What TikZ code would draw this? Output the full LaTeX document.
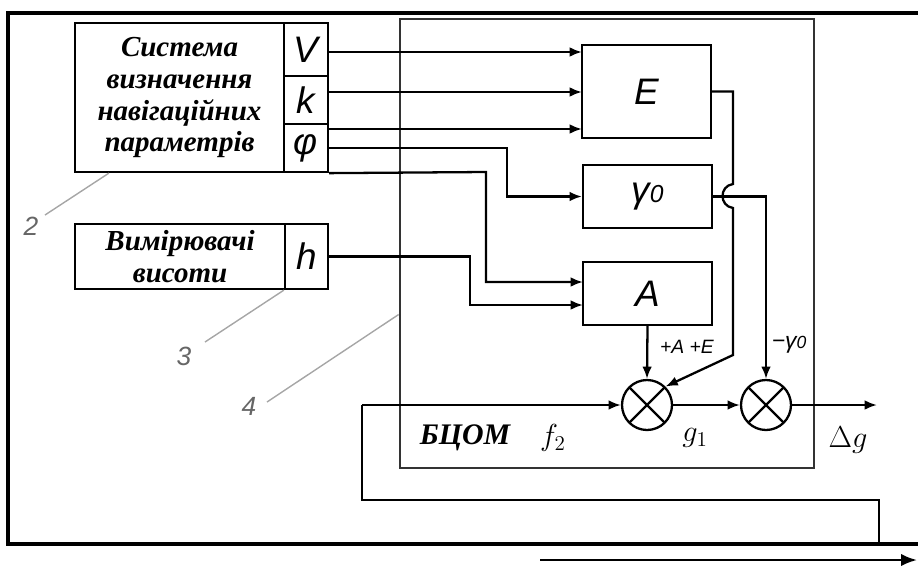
\documentclass[tikz,border=0pt]{standalone}
\usepackage{fontspec}
\setmainfont{Liberation Serif}
\setsansfont{Liberation Sans}
\usetikzlibrary{positioning, calc, arrows.meta}

\tikzset{
    blk/.style={draw, line width=1.3pt, inner sep=0pt},
    wire/.style={line width=1.3pt},
    feed/.style={wire, -{Latex[length=7pt,width=5.5pt]}},
    sum/.style={circle, draw, line width=1.3pt, minimum size=1cm, inner sep=0pt,
        path picture={\draw[line width=1.3pt]
            (path picture bounding box.north west) -- (path picture bounding box.south east)
            (path picture bounding box.north east) -- (path picture bounding box.south west);}},
    lead/.style={gray!70, line width=0.8pt},
    numlbl/.style={gray!80!black, font=\sffamily\itshape\fontsize{15}{15}\selectfont},
    sig/.style={font=\sffamily\itshape\fontsize{21}{21}\selectfont},
    title/.style={font=\bfseries\itshape\fontsize{16.5}{18.2}\selectfont, align=center}
}

\begin{document}
\begin{tikzpicture}[x=0.02cm, y=-0.02cm]

    \useasboundingbox (0,0) rectangle (918,565);

    % ;- outer frame ;-
    \draw[line width=2.2pt] (918,13) -- (8,13) -- (8,544) -- (918,544);
    \coordinate (arrL) at (540,560);
    \coordinate (arrR) at (917,560);
    \draw[line width=1.4pt, -{Latex[length=9pt,width=7pt]}] (arrL) -- (arrR);

    % ;- navigation system (2) ;-
    \node[blk, minimum width=4.18cm, minimum height=2.98cm, title] (sys) at (179.5,97.5)
        {Система\\визначення\\навігаційних\\параметрів};
    \node[blk, minimum width=0.88cm, minimum height=1.06cm, sig] (V) at (306,49.5) {V};
    \node[blk, minimum width=0.88cm, minimum height=0.96cm, sig] (k) at (306,100) {k};
    \node[blk, minimum width=0.88cm, minimum height=0.96cm, sig] (phi) at (306,148) {φ};

    % ;- altimeters (3) ;-
    \node[blk, minimum width=4.2cm, minimum height=1.3cm, title] (alt) at (180,256.5)
        {Вимірювачі\\висоти};
    \node[blk, minimum width=0.86cm, minimum height=1.3cm, sig] (h) at (306.5,256.5) {h};

    % ;- onboard computer (4) ;-
    \node[blk, line width=1.6pt, draw=black!80, minimum width=8.28cm, minimum height=8.98cm]
        (bcom) at (607,243.5) {};
    \node[blk, minimum width=2.58cm, minimum height=1.86cm, sig] (E) at (646.5,91.5) {E};
    \node[blk, minimum width=2.58cm, minimum height=1.26cm, sig] (g0) at (647.5,196.5)
        {γ{\fontsize{14}{14}\selectfont 0}};
    \node[blk, minimum width=2.58cm, minimum height=1.26cm, sig] (A) at (647.5,293.5) {A};
    \node[sum] (s1) at (647,405) {};
    \node[sum] (s2) at (766,405) {};

    % input points on E and A
    \foreach \n/\y in {1/52, 2/92, 3/129}{
        \coordinate (e\n) at (582,\y);
    }
    \coordinate (a1) at (583,282);
    \coordinate (a2) at (583,305);

    % ;- signal lines ;-
    \draw[feed] (V.east |- e1) -- (e1);
    \draw[feed] (k.east |- e2) -- (e2);
    \draw[feed] (phi.east |- e3) -- (e3);
    \draw[feed] (phi.east) -- (507,148) |- (g0.west);
    \draw[feed] (phi.south east) -- (486,172) |- (a1);
    \draw[feed] (h.east) -- (470,256.5) |- (a2);
    % E goes down to the first sum, hopping over the gamma line
    \draw[feed] (E.east) -- (733,91.5) -- (733,184)
        .. controls (719,186) and (719,206) .. (733,208)
        -- (733,355) -- (s1.north east);
    \draw[feed] (g0.east) -| (s2.north);
    \draw[feed] (A.south) -- (s1.north);
    \draw[feed] (s1.east) -- (s2.west);
    \coordinate (out) at (877,405);
    \draw[feed] (s2.east) -- (out);

    % feedback loop
    \coordinate (fb) at (362,405);
    \coordinate (fbEnd) at (879,544);
    \draw[feed] (fb) -- (s1.west);
    \draw[wire] (fb) -- (362,500) -| (fbEnd);

    % ;- labels ;-
    \node[font=\bfseries\itshape\fontsize{17}{17}\selectfont] (bcomlbl) at (465,438) {БЦОМ};
    \node[font=\fontsize{17}{17}\selectfont] (f2) at (553,438) {$f_{2}$};
    \node[font=\fontsize{17}{17}\selectfont] (g1) at (695,438) {$g_{1}$};
    \node[font=\fontsize{17}{17}\selectfont] (dg) at (848,440) {$\Delta g$};
    \node[font=\sffamily\itshape\fontsize{11}{11}\selectfont] (plusAE) at (687,347) {+A +E};
    \node[font=\sffamily\itshape\fontsize{13}{13}\selectfont] (minusg) at (789,345)
        {−γ{\fontsize{10}{10}\selectfont 0}};

    % ;- leader lines ;-
    \coordinate (l2) at (45,215);
    \draw[lead] ($(sys.south west)+(35,0)$) -- (l2);
    \node[numlbl] (n2) at (31,226) {2};
    \coordinate (l3) at (205,342);
    \draw[lead] (h.south west) -- (l3);
    \node[numlbl] (n3) at (184,356) {3};
    \coordinate (l4) at (267,402);
    \draw[lead] ($(bcom.west)+(0,71)$) -- (l4);
    \node[numlbl] (n4) at (249,406) {4};

\end{tikzpicture}
\end{document}
